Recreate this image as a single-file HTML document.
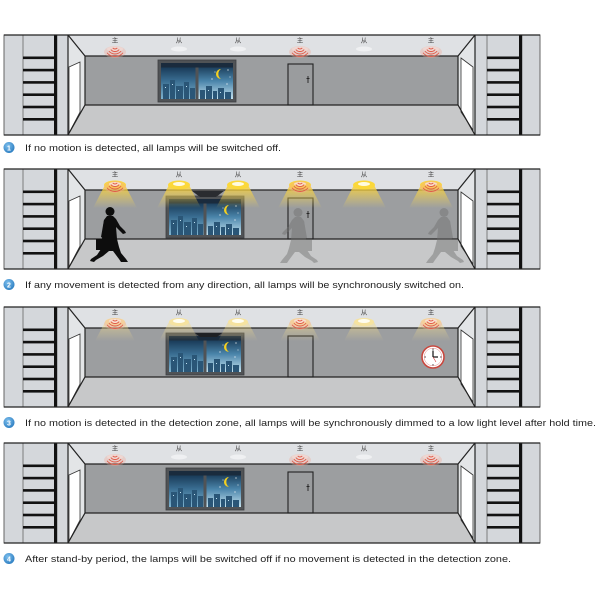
<!DOCTYPE html>
<html><head><meta charset="utf-8"><style>
html,body{margin:0;padding:0;background:#fff;}
svg{display:block;}
text{font-family:"Liberation Sans","Noto Sans CJK SC",sans-serif;}
</style></head><body>
<svg width="600" height="600" viewBox="0 0 600 600" xmlns="http://www.w3.org/2000/svg">
<defs>
  <linearGradient id="sky" x1="0" y1="0" x2="0" y2="1">
    <stop offset="0" stop-color="#0f2a45"/><stop offset="0.5" stop-color="#3a6e92"/><stop offset="1" stop-color="#7fb3cf"/>
  </linearGradient>
  <linearGradient id="sky2" x1="0" y1="0" x2="0" y2="1">
    <stop offset="0" stop-color="#0f2a45"/><stop offset="0.5" stop-color="#4a84aa"/><stop offset="1" stop-color="#c4e2ef"/>
  </linearGradient>
  <linearGradient id="cone" x1="0" y1="0" x2="0" y2="1">
    <stop offset="0" stop-color="#f7cf3a" stop-opacity="0.95"/><stop offset="1" stop-color="#f7d85a" stop-opacity="0"/>
  </linearGradient>
  <linearGradient id="cone3" x1="0" y1="0" x2="0" y2="1">
    <stop offset="0" stop-color="#f4dc8a" stop-opacity="0.55"/><stop offset="1" stop-color="#f4dc8a" stop-opacity="0"/>
  </linearGradient>
  <radialGradient id="blue" cx="0.4" cy="0.35" r="0.7">
    <stop offset="0" stop-color="#7fc0ee"/><stop offset="1" stop-color="#2a7cc0"/>
  </radialGradient>

  <g id="room">
    <rect x="4" y="0" width="536" height="100" fill="#d4d7db" stroke="#666" stroke-width="1"/>
    <line x1="23" y1="0" x2="23" y2="100" stroke="#666" stroke-width="0.8"/>
    <rect x="54" y="0" width="3.2" height="100" fill="#111"/>
    <g fill="#111">
      <rect x="23" y="21.5" width="31" height="2.6"/><rect x="23" y="33.8" width="31" height="2.6"/>
      <rect x="23" y="46.1" width="31" height="2.6"/><rect x="23" y="58.4" width="31" height="2.6"/>
      <rect x="23" y="70.7" width="31" height="2.6"/><rect x="23" y="83" width="31" height="2.6"/>
    </g>
    <line x1="487" y1="0" x2="487" y2="100" stroke="#666" stroke-width="0.8"/>
    <rect x="519" y="0" width="3.2" height="100" fill="#111"/>
    <g fill="#111">
      <rect x="487" y="21.5" width="32" height="2.6"/><rect x="487" y="33.8" width="32" height="2.6"/>
      <rect x="487" y="46.1" width="32" height="2.6"/><rect x="487" y="58.4" width="32" height="2.6"/>
      <rect x="487" y="70.7" width="32" height="2.6"/><rect x="487" y="83" width="32" height="2.6"/>
    </g>
    <polygon points="68,0 475,0 458,21 85,21" fill="#dfe1e4"/>
    <rect x="85" y="21" width="373" height="49" fill="#9c9ea0"/>
    <polygon points="85,70 458,70 475,100 68,100" fill="#c7c8c9"/>
    <polygon points="68,0 85,21 85,70 68,100" fill="#e3e5e7"/>
    <polygon points="475,0 458,21 458,70 475,100" fill="#e3e5e7"/>
    <polygon points="69,32 80,27 80,77 69,98" fill="#fff" stroke="#333" stroke-width="0.8"/>
    <polygon points="461,23 473,32 473,95 461,77" fill="#fff" stroke="#333" stroke-width="0.8"/>
    <rect x="288" y="29" width="25" height="41" fill="#9a9c9e" stroke="#222" stroke-width="1.1"/>
    <g stroke="#222" stroke-width="1.2" fill="none">
      <line x1="68" y1="0" x2="68" y2="100"/><line x1="475" y1="0" x2="475" y2="100"/>
      <polyline points="68,0 85,21 458,21 475,0"/>
      <polyline points="68,100 85,70 458,70 475,100"/>
      <line x1="85" y1="21" x2="85" y2="70"/><line x1="458" y1="21" x2="458" y2="70"/>
      <line x1="4" y1="0" x2="540" y2="0"/><line x1="4" y1="100" x2="540" y2="100"/>
    </g>
    <g font-size="6.5" fill="#444" text-anchor="middle">
      <text x="115" y="7.5">主</text><text x="179" y="7.5">从</text><text x="238" y="7.5">从</text>
      <text x="300" y="7.5">主</text><text x="364" y="7.5">从</text><text x="431" y="7.5">主</text>
    </g>
  </g>

  <g id="handle" stroke="#222" stroke-width="0.9">
    <line x1="308" y1="41" x2="308" y2="48"/><line x1="306.5" y1="43.5" x2="309.5" y2="43.5"/>
  </g>

  <g id="win">
    <rect x="0" y="0" width="78" height="42" fill="#505356" stroke="#3c3e40" stroke-width="0.8"/>
    <rect x="3" y="3" width="34.5" height="36" fill="url(#sky)"/>
    <rect x="40.5" y="3" width="34.5" height="36" fill="url(#sky2)"/>
    <rect x="3" y="3" width="72" height="4.5" fill="#1a2b3d"/>
    <g fill="#2a5677">
      <rect x="5" y="24" width="6" height="15"/><rect x="12" y="20" width="5" height="19"/>
      <rect x="18" y="26" width="7" height="13"/><rect x="26" y="22" width="5" height="17"/>
      <rect x="32" y="28" width="5" height="11"/>
      <rect x="42" y="30" width="5" height="9"/><rect x="48" y="26" width="6" height="13"/>
      <rect x="55" y="31" width="4" height="8"/><rect x="60" y="28" width="6" height="11"/>
      <rect x="67" y="32" width="6" height="7"/>
    </g>
    <g fill="#bfe0f0">
      <rect x="7" y="27" width="1" height="1"/><rect x="14" y="24" width="1" height="1"/>
      <rect x="20" y="30" width="1" height="1"/><rect x="28" y="26" width="1" height="1"/>
      <rect x="50" y="30" width="1" height="1"/><rect x="62" y="32" width="1" height="1"/>
    </g>
    <path d="M63,9 A5,5 0 1 0 63,19 A6,6 0 0 1 63,9 Z" fill="#f5d020"/>
    <g fill="#fff">
      <circle cx="70" cy="10" r="0.6"/><circle cx="54" cy="19" r="0.6"/>
      <circle cx="69" cy="24" r="0.6"/><circle cx="72" cy="17" r="0.5"/><circle cx="57" cy="12" r="0.5"/>
    </g>
  </g>

  <g id="sens">
    <ellipse cx="0" cy="6" rx="11" ry="6" fill="#f2a898" opacity="0.35"/>
    <g fill="none" stroke="#e05a48" stroke-width="0.9">
      <path d="M-2.3,1.93 A3,3 0 0 0 2.3,1.93"/>
      <path d="M-4.21,3.54 A5.5,5.5 0 0 0 4.21,3.54"/>
      <path d="M-6.13,5.14 A8,8 0 0 0 6.13,5.14"/>
      <path d="M-8.04,6.75 A10.5,10.5 0 0 0 8.04,6.75"/>
    </g>
  </g>

  <g id="offlamp">
    <ellipse cx="0" cy="0" rx="8" ry="2.5" fill="#f3f4f5" opacity="0.8"/>
  </g>
  <g id="onlamp">
    <polygon points="-10,0 10,0 22,23 -22,23" fill="url(#cone)"/>
    <ellipse cx="0" cy="0" rx="11" ry="4.5" fill="#fbd83a"/>
    <ellipse cx="0" cy="-1" rx="6" ry="2" fill="#fffbe0"/>
  </g>
  <g id="dimlamp">
    <polygon points="-10,0 10,0 20,19 -20,19" fill="url(#cone3)"/>
    <ellipse cx="0" cy="0" rx="10" ry="4" fill="#f6e3a0"/>
    <ellipse cx="0" cy="-1" rx="6" ry="2" fill="#fffdf0"/>
  </g>

  <g id="man">
    <circle cx="20" cy="4.5" r="4.5"/>
    <path d="M17,9 L23,9 L26,12 L30,19 L35,24 L36,26 L33,27 L28,22 L26,20 L27,32 L29,40 L31,46 L36,52 L38,55 L31,55 L29,52 L23,44 L19,44 L13,49 L6,53 L4,55 L0,54 L1,52 L7,48 L11,42 L12,32 L13,20 L14,13 Z"/>
    <path d="M14,13 L11,30 L13,31 L16,16 Z"/>
    <rect x="6" y="32" width="9" height="11"/>
  </g>
</defs>

<!-- Panel 1 -->
<g transform="translate(0,35)">
  <use href="#room"/>
  <use href="#handle"/>
</g>
<use href="#win" transform="translate(158,60)"/>
<g transform="translate(0,49)">
  <use href="#offlamp" x="115"/><use href="#offlamp" x="179"/><use href="#offlamp" x="238"/>
  <use href="#offlamp" x="300"/><use href="#offlamp" x="364"/><use href="#offlamp" x="431"/>
</g>
<use href="#sens" transform="translate(115,46)"/>
<use href="#sens" transform="translate(300,46)"/>
<use href="#sens" transform="translate(431,46)"/>

<!-- Panel 2 -->
<g transform="translate(0,169)">
  <use href="#room"/>
  <use href="#handle" transform="translate(0,1)"/>
</g>
<use href="#win" transform="translate(166,196)"/>
<polygon points="192,191 224,191 216,197 200,197" fill="#2a2c30"/>
<g transform="translate(0,185)">
  <use href="#onlamp" x="115"/><use href="#onlamp" x="179"/><use href="#onlamp" x="238"/>
  <use href="#onlamp" x="300"/><use href="#onlamp" x="364"/><use href="#onlamp" x="431"/>
</g>
<use href="#sens" transform="translate(115,181)"/>
<use href="#sens" transform="translate(300,181)"/>
<use href="#sens" transform="translate(431,181)"/>
<use href="#man" transform="translate(90,207)" fill="#0d0d0d"/>
<use href="#man" transform="translate(318,208) scale(-1,1)" fill="#6e6e6e" opacity="0.45"/>
<use href="#man" transform="translate(464,208) scale(-1,1)" fill="#6e6e6e" opacity="0.45"/>

<!-- Panel 3 -->
<g transform="translate(0,307)">
  <use href="#room"/>
</g>
<use href="#win" transform="translate(166,333)"/>
<polygon points="195,333 222,333 217,337 200,337" fill="#1e2024"/>
<g transform="translate(0,322)">
  <use href="#dimlamp" x="115"/><use href="#dimlamp" x="179"/><use href="#dimlamp" x="238"/>
  <use href="#dimlamp" x="300"/><use href="#dimlamp" x="364"/><use href="#dimlamp" x="431"/>
</g>
<use href="#sens" transform="translate(115,318)"/>
<use href="#sens" transform="translate(300,318)"/>
<use href="#sens" transform="translate(431,318)"/>
<g transform="translate(433,357)">
  <circle r="11" fill="#fff" stroke="#c9473e" stroke-width="1.6"/>
  <circle r="8.8" fill="none" stroke="#d88" stroke-width="0.5"/>
  <g stroke="#333" stroke-width="0.8">
    <line x1="0" y1="-8.5" x2="0" y2="-7"/><line x1="0" y1="8.5" x2="0" y2="7"/>
    <line x1="-8.5" y1="0" x2="-7" y2="0"/><line x1="8.5" y1="0" x2="7" y2="0"/>
  </g>
  <line x1="0" y1="0" x2="0" y2="-6.5" stroke="#111" stroke-width="1.2"/>
  <line x1="0" y1="0" x2="5" y2="0" stroke="#111" stroke-width="1.2"/>
  <line x1="0" y1="0" x2="3" y2="5" stroke="#c33" stroke-width="0.6"/>
</g>

<!-- Panel 4 -->
<g transform="translate(0,443)">
  <use href="#room"/>
  <use href="#handle"/>
</g>
<use href="#win" transform="translate(166,468)"/>
<g transform="translate(0,457)">
  <use href="#offlamp" x="115"/><use href="#offlamp" x="179"/><use href="#offlamp" x="238"/>
  <use href="#offlamp" x="300"/><use href="#offlamp" x="364"/><use href="#offlamp" x="431"/>
</g>
<use href="#sens" transform="translate(115,454)"/>
<use href="#sens" transform="translate(300,454)"/>
<use href="#sens" transform="translate(431,454)"/>

<!-- Captions -->
<g font-size="9.5" fill="#222">
  <circle cx="9" cy="147.5" r="5.5" fill="url(#blue)"/>
  <text x="9" y="150.3" font-size="7" font-weight="bold" fill="#fff" text-anchor="middle">1</text>
  <text x="25" y="151" textLength="256" lengthAdjust="spacingAndGlyphs">If no motion is detected, all lamps will be switched off.</text>

  <circle cx="9" cy="284.5" r="5.5" fill="url(#blue)"/>
  <text x="9" y="287.3" font-size="7" font-weight="bold" fill="#fff" text-anchor="middle">2</text>
  <text x="25" y="288" textLength="439" lengthAdjust="spacingAndGlyphs">If any movement is detected from any direction, all lamps will be synchronously switched on.</text>

  <circle cx="9" cy="422.5" r="5.5" fill="url(#blue)"/>
  <text x="9" y="425.3" font-size="7" font-weight="bold" fill="#fff" text-anchor="middle">3</text>
  <text x="25" y="426" textLength="571" lengthAdjust="spacingAndGlyphs">If no motion is detected in the detection zone, all lamps will be synchronously dimmed to a low light level after hold time.</text>

  <circle cx="9" cy="558.5" r="5.5" fill="url(#blue)"/>
  <text x="9" y="561.3" font-size="7" font-weight="bold" fill="#fff" text-anchor="middle">4</text>
  <text x="25" y="562" textLength="486" lengthAdjust="spacingAndGlyphs">After stand-by period, the lamps will be switched off if no movement is detected in the detection zone.</text>
</g>
</svg>
</body></html>
